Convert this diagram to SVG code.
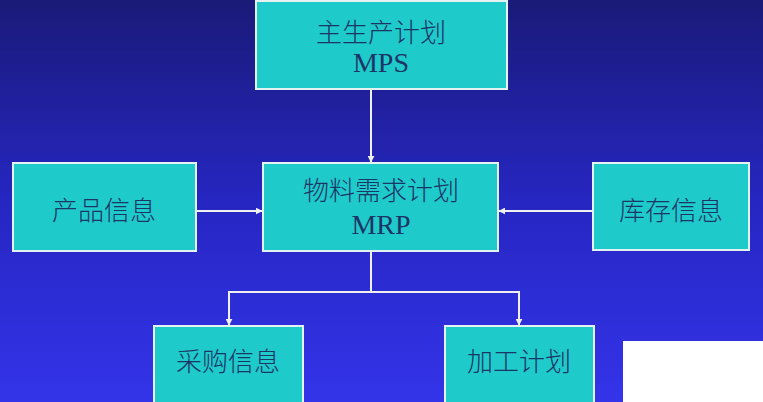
<svg xmlns="http://www.w3.org/2000/svg" width="763" height="402" viewBox="0 0 763 402">
<defs>
<linearGradient id="bg" x1="0" y1="0" x2="0" y2="1">
<stop offset="0" stop-color="#1a1a78"/>
<stop offset="0.5" stop-color="#2626c2"/>
<stop offset="1" stop-color="#3434ea"/>
</linearGradient>
<marker id="arr" viewBox="0 0 10 10" refX="9" refY="5" markerWidth="7" markerHeight="7" markerUnits="userSpaceOnUse" orient="auto">
<path d="M0,0 L10,5 L0,10 z" fill="#f0f0f0"/>
</marker>
<style>
.box{fill:#1fcaca;stroke:#e4f2f2;stroke-width:2}
.t{font-family:"Noto Sans CJK SC","Liberation Serif",serif;font-size:26px;font-weight:300;fill:#1c3466;text-anchor:middle}
.m{font-family:"Liberation Serif",serif;font-size:28px;fill:#1c3466;text-anchor:middle}
.c{stroke:#f0f0f0;stroke-width:2;fill:none}
</style>
</defs>
<rect width="763" height="402" fill="url(#bg)"/>
<g id="connectors">
<line class="c" x1="277" y1="0" x2="277" y2="2"/>
<line class="c" x1="371" y1="0" x2="371" y2="2"/>
<line class="c" x1="473" y1="0" x2="473" y2="2"/>
<line class="c" x1="371" y1="90" x2="371" y2="162" marker-end="url(#arr)"/>
<line class="c" x1="197" y1="211" x2="262" y2="211" marker-end="url(#arr)"/>
<line class="c" x1="592" y1="211" x2="499" y2="211" marker-end="url(#arr)"/>
<polyline class="c" points="371,252 371,292 229,292 229,325" marker-end="url(#arr)"/>
<polyline class="c" points="371,292 519,292 519,325" marker-end="url(#arr)"/>
</g>
<g id="mps">
<rect class="box" x="256" y="1" width="251" height="88"/>
<text class="t" x="381" y="42">主生产计划</text>
<text class="m" x="381" y="72">MPS</text>
</g>
<g id="product">
<rect class="box" x="13" y="163" width="183" height="88"/>
<text class="t" x="104" y="220">产品信息</text>
</g>
<g id="mrp">
<rect class="box" x="263" y="163" width="235" height="88"/>
<text class="t" x="381" y="200">物料需求计划</text>
<text class="m" x="381" y="234">MRP</text>
</g>
<g id="stock">
<rect class="box" x="593" y="163" width="156" height="87"/>
<text class="t" x="671" y="220">库存信息</text>
</g>
<g id="purchase">
<rect class="box" x="154" y="326" width="149" height="80"/>
<text class="t" x="228" y="371">采购信息</text>
</g>
<g id="process">
<rect class="box" x="445" y="326" width="149" height="80"/>
<text class="t" x="519" y="371">加工计划</text>
</g>
<rect x="623" y="341" width="140" height="61" fill="#ffffff"/>
</svg>
